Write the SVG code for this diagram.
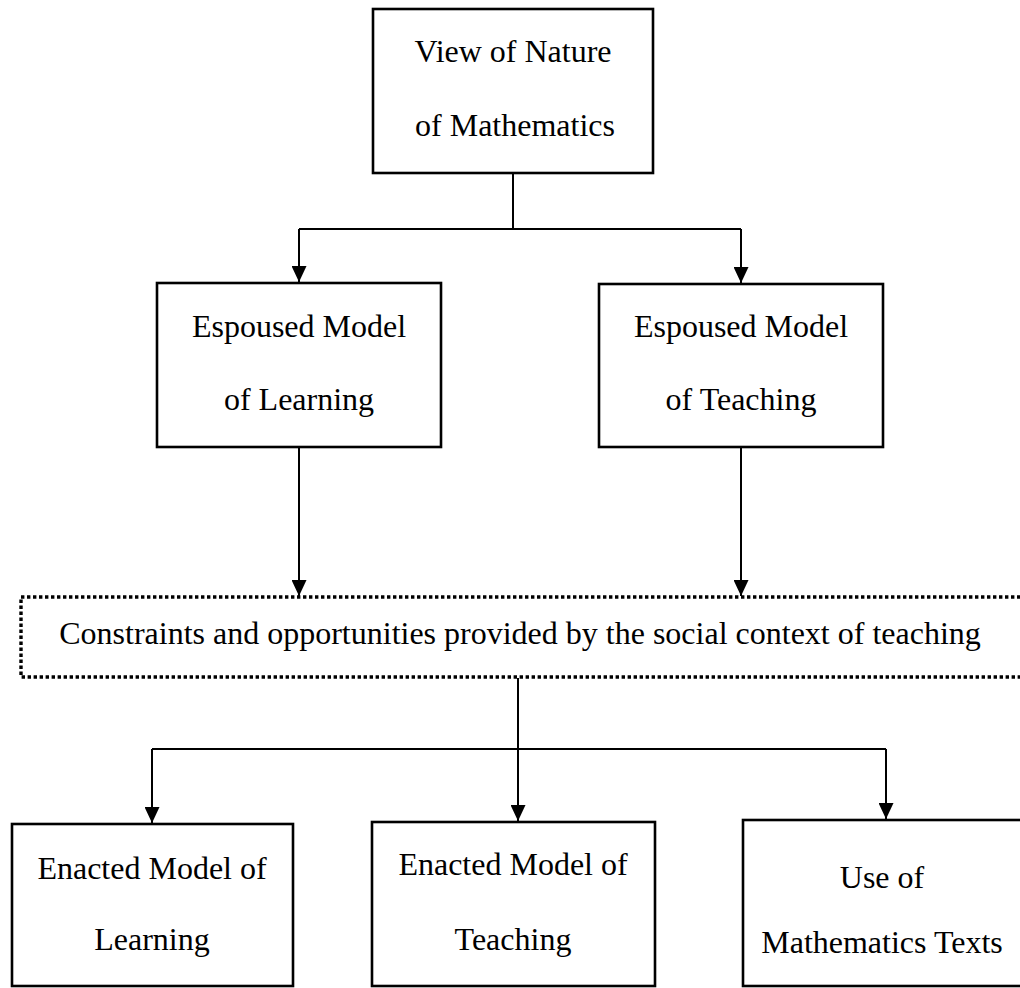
<svg xmlns="http://www.w3.org/2000/svg" width="1020" height="988" viewBox="0 0 1020 988">
<defs>
<style>
.box{fill:#fff;stroke:#000;stroke-width:2.6}
.dot{fill:none;stroke:#000;stroke-width:3.4;stroke-dasharray:3.4 2.6}
.con{fill:none;stroke:#000;stroke-width:2}
text{font-family:"Liberation Serif","Times New Roman",serif;font-size:32px;fill:#000;text-anchor:middle}
</style>
<marker id="ah" viewBox="0 0 16 15" refX="16" refY="7.5" markerWidth="16" markerHeight="15" markerUnits="userSpaceOnUse" orient="auto">
<path d="M0,0 L16,7.5 L0,15 Z" fill="#000"/>
</marker>
</defs>
<rect width="1020" height="988" fill="#fff"/>
<g id="connectors">
<path class="con" d="M513,173 V229"/>
<path class="con" d="M299,229 H741"/>
<path class="con" d="M299,229 V282" marker-end="url(#ah)"/>
<path class="con" d="M741,229 V283" marker-end="url(#ah)"/>
<path class="con" d="M299,448 V596" marker-end="url(#ah)"/>
<path class="con" d="M741,448 V596" marker-end="url(#ah)"/>
<path class="con" d="M518,678 V749"/>
<path class="con" d="M152,749 H886"/>
<path class="con" d="M152,749 V823" marker-end="url(#ah)"/>
<path class="con" d="M518,749 V821" marker-end="url(#ah)"/>
<path class="con" d="M886,749 V819" marker-end="url(#ah)"/>
</g>
<g id="view-nature">
<rect class="box" x="373" y="9" width="280" height="164"/>
<text x="513" y="62">View of Nature</text>
<text x="515" y="136">of Mathematics</text>
</g>
<g id="espoused-learning">
<rect class="box" x="157" y="283" width="284" height="164"/>
<text x="299" y="337">Espoused Model</text>
<text x="299" y="410">of Learning</text>
</g>
<g id="espoused-teaching">
<rect class="box" x="599" y="284" width="284" height="163"/>
<text x="741" y="337">Espoused Model</text>
<text x="741" y="410">of Teaching</text>
</g>
<g id="constraints">
<rect class="dot" x="21" y="597" width="1003" height="80"/>
<text x="520" y="644">Constraints and opportunities provided by the social context of teaching</text>
</g>
<g id="enacted-learning">
<rect class="box" x="12" y="824" width="281" height="162"/>
<text x="152" y="879">Enacted Model of</text>
<text x="152" y="950">Learning</text>
</g>
<g id="enacted-teaching">
<rect class="box" x="372" y="822" width="283" height="164"/>
<text x="513" y="875">Enacted Model of</text>
<text x="513" y="950">Teaching</text>
</g>
<g id="math-texts">
<rect class="box" x="743" y="820" width="280" height="166"/>
<text x="882" y="888">Use of</text>
<text x="882" y="953">Mathematics Texts</text>
</g>
</svg>
